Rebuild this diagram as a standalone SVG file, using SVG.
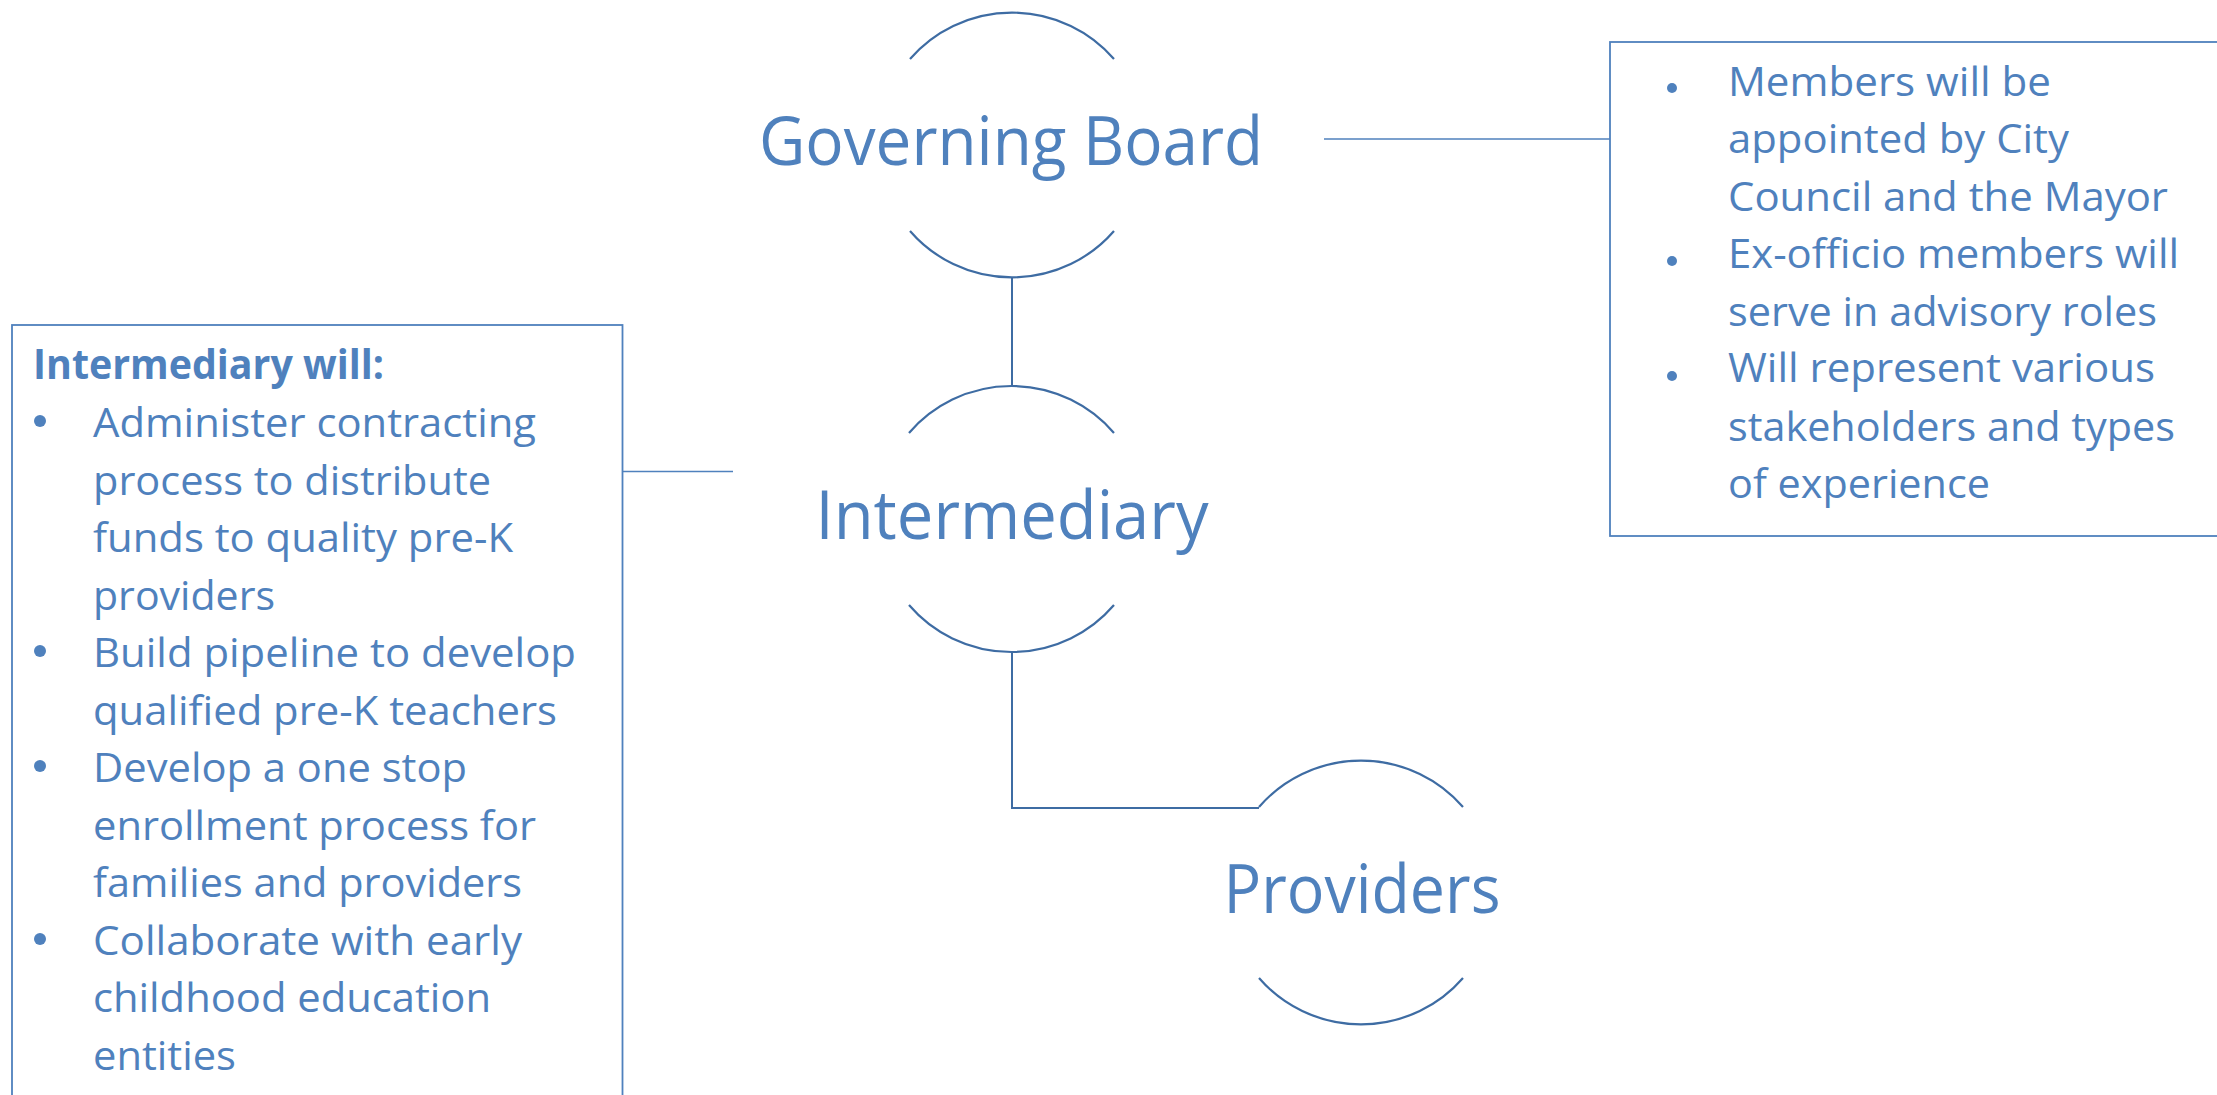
<svg xmlns="http://www.w3.org/2000/svg" width="2217" height="1095" viewBox="0 0 2217 1095">
<style>
.arc{fill:none;stroke:#3e6ca3;stroke-width:2.2}
.conn{fill:none;stroke:#3e6ca3;stroke-width:2}
.boxc{fill:none;stroke:#4f81bd;stroke-width:1.6}
.box{fill:#ffffff;stroke:#4f81bd;stroke-width:1.8}
.lbl{font-family:"Open Sans","Noto Sans",sans-serif;fill:#4f81bd;font-size:67px;text-anchor:middle}
.body{font-family:"Open Sans","Noto Sans",sans-serif;fill:#4f81bd;font-size:41px}
.bold{font-weight:bold}
.dot{fill:#4f81bd}
</style>
<rect width="2217" height="1095" fill="#ffffff"/>
<g id="connectors">
<line class="conn" x1="1012" y1="277" x2="1012" y2="387"/>
<polyline class="conn" points="1012,651 1012,808 1259,808"/>
<line class="boxc" x1="1324" y1="139" x2="1610" y2="139"/>
<line class="boxc" x1="622" y1="471.5" x2="733" y2="471.5"/>
</g>
<g id="governing-board">
<path class="arc" d="M 910 59 A 134 132 0 0 1 1114 59"/>
<path class="arc" d="M 910 231 A 134 132 0 0 0 1114 231"/>
<text class="lbl" x="1011" y="165" textLength="504" lengthAdjust="spacingAndGlyphs">Governing Board</text>
</g>
<g id="intermediary">
<path class="arc" d="M 909 433 A 134 132 0 0 1 1114 433"/>
<path class="arc" d="M 909 605 A 134 132 0 0 0 1114 605"/>
<text class="lbl" x="1012" y="539" textLength="393" lengthAdjust="spacingAndGlyphs">Intermediary</text>
</g>
<g id="providers">
<path class="arc" d="M 1259 807 A 134 132 0 0 1 1463 807"/>
<path class="arc" d="M 1259 978 A 134 132 0 0 0 1463 978"/>
<text class="lbl" x="1362" y="913" textLength="277" lengthAdjust="spacingAndGlyphs">Providers</text>
</g>
<g id="board-notes">
<rect class="box" x="1610" y="42" width="640" height="494"/>
<circle class="dot" cx="1672" cy="88" r="5"/>
<circle class="dot" cx="1672" cy="261" r="5"/>
<circle class="dot" cx="1672" cy="376" r="5"/>
<text class="body" x="1728" y="96" textLength="323" lengthAdjust="spacingAndGlyphs">Members will be</text>
<text class="body" x="1728" y="153" textLength="341" lengthAdjust="spacingAndGlyphs">appointed by City</text>
<text class="body" x="1728" y="211" textLength="440" lengthAdjust="spacingAndGlyphs">Council and the Mayor</text>
<text class="body" x="1728" y="268" textLength="451" lengthAdjust="spacingAndGlyphs">Ex-officio members will</text>
<text class="body" x="1728" y="326" textLength="429" lengthAdjust="spacingAndGlyphs">serve in advisory roles</text>
<text class="body" x="1728" y="382" textLength="427" lengthAdjust="spacingAndGlyphs">Will represent various</text>
<text class="body" x="1728" y="441" textLength="447" lengthAdjust="spacingAndGlyphs">stakeholders and types</text>
<text class="body" x="1728" y="498" textLength="262" lengthAdjust="spacingAndGlyphs">of experience</text>
</g>
<g id="intermediary-notes">
<rect class="box" x="12" y="325" width="610.5" height="800"/>
<text class="body bold" x="33" y="379" textLength="351" lengthAdjust="spacingAndGlyphs">Intermediary will:</text>
<circle class="dot" cx="40" cy="421" r="6"/>
<circle class="dot" cx="40" cy="651" r="6"/>
<circle class="dot" cx="40" cy="766" r="6"/>
<circle class="dot" cx="40" cy="939" r="6"/>
<text class="body" x="93" y="437" textLength="443" lengthAdjust="spacingAndGlyphs">Administer contracting</text>
<text class="body" x="93" y="495" textLength="398" lengthAdjust="spacingAndGlyphs">process to distribute</text>
<text class="body" x="93" y="552" textLength="420" lengthAdjust="spacingAndGlyphs">funds to quality pre-K</text>
<text class="body" x="93" y="610" textLength="182" lengthAdjust="spacingAndGlyphs">providers</text>
<text class="body" x="93" y="667" textLength="483" lengthAdjust="spacingAndGlyphs">Build pipeline to develop</text>
<text class="body" x="93" y="725" textLength="464" lengthAdjust="spacingAndGlyphs">qualified pre-K teachers</text>
<text class="body" x="93" y="782" textLength="374" lengthAdjust="spacingAndGlyphs">Develop a one stop</text>
<text class="body" x="93" y="840" textLength="443" lengthAdjust="spacingAndGlyphs">enrollment process for</text>
<text class="body" x="93" y="897" textLength="429" lengthAdjust="spacingAndGlyphs">families and providers</text>
<text class="body" x="93" y="955" textLength="429" lengthAdjust="spacingAndGlyphs">Collaborate with early</text>
<text class="body" x="93" y="1012" textLength="398" lengthAdjust="spacingAndGlyphs">childhood education</text>
<text class="body" x="93" y="1070" textLength="143" lengthAdjust="spacingAndGlyphs">entities</text>
</g>
</svg>
